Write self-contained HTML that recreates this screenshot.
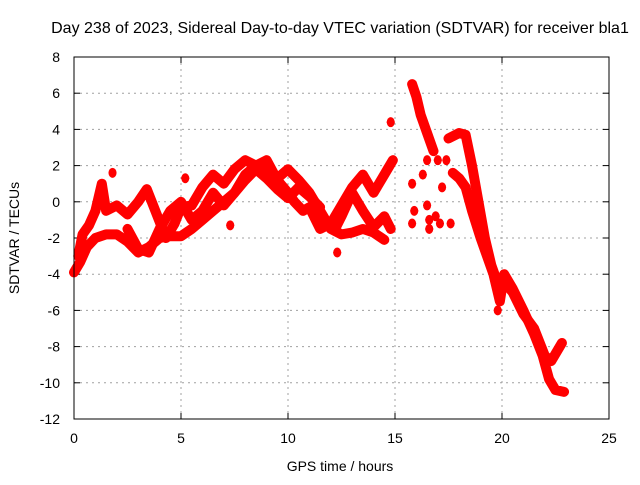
<!DOCTYPE html>
<html><head><meta charset="utf-8"><style>
body{margin:0;background:#fff}
svg text{font-family:"Liberation Sans",sans-serif;font-size:14px;fill:#000}
</style></head><body>
<svg id="chart" width="640" height="480" viewBox="0 0 640 480" xmlns="http://www.w3.org/2000/svg">
<text x="340" y="33" text-anchor="middle" style="font-size:16px">Day 238 of 2023, Sidereal Day-to-day VTEC variation (SDTVAR) for receiver bla1</text>
<g id="grid"></g>
<g id="ticks"></g>
<g id="marks"></g>
<rect x="74" y="57" width="535" height="362" fill="none" stroke="#000" stroke-width="1"/>
<text x="340" y="471" text-anchor="middle">GPS time / hours</text>
<text transform="translate(19,238) rotate(-90)" text-anchor="middle">SDTVAR / TECUs</text>
</svg>
<script>
const xTicks=[0,5,10,15,20,25];
const yTicks=[-12,-10,-8,-6,-4,-2,0,2,4,6,8];
const trackA_t=[0,0.3,0.6,1.0,1.5,2,2.5,3,3.5,4,4.5,5,5.5,6,6.5,7,7.5,8,8.5,9,9.5,10,10.5,11,11.5,12,12.5,13,13.5,14,14.5];
const trackA_v=[-3.9,-3.3,-2.5,-2.0,-1.8,-1.8,-2.2,-2.8,-2.5,-2.0,-1.9,-1.9,-1.5,-1.0,-0.5,0,0.5,1.5,2.0,1.6,1.3,1.8,1.2,0.5,-0.5,-1.5,-1.8,-1.7,-1.5,-1.7,-2.1];
const trackB_t=[0.2,0.4,0.7,1.0,1.3,1.5,2,2.5,3,3.4,3.8,4.3,4.7,5,5.5,6,6.5,7,7.5,8,8.5,9,9.5,10,10.3,10.7,11,11.5,12,12.5,13,13.5,14,14.5,14.9];
const trackB_v=[-3.0,-1.8,-1.3,-0.5,1.0,-0.5,-0.2,-0.7,0.0,0.7,-0.5,-2.0,-1.2,-0.3,-0.2,0.8,1.5,1.0,1.8,2.3,2.0,2.3,1.2,0.5,0,-0.5,-0.3,-1.5,-1.2,-0.2,0.8,1.5,0.5,1.5,2.3];
const trackC_t=[2.5,3,3.5,4,4.5,5,5.5,6,6.5,7,7.5,8,8.5,9,9.5,10,10.5,11,11.5];
const trackC_v=[-1.5,-2.6,-2.8,-1.5,-0.5,0,-1.0,-0.5,0.5,-0.2,0.5,1.2,1.8,1.3,0.7,0.2,0.8,0.3,-0.3];
const trackD_t=[12.2,12.5,13,13.5,14,14.5,14.8];
const trackD_v=[-1.5,-0.8,0.5,-0.5,-1.4,-0.8,-1.5];
const trackE_t=[15.8,16,16.2,16.5,16.8];
const trackE_v=[6.5,5.8,4.8,3.8,2.8];
const trackF_t=[17.5,18,18.3,18.6,18.9,19.2,19.5,19.8,20,20.5,21,21.5,22,22.3,22.8];
const trackF_v=[3.5,3.8,3.7,2.0,0,-2,-3.5,-4.5,-4.3,-5.0,-6.2,-7.0,-8.5,-8.8,-7.8];
const trackG_t=[17.7,18.0,18.3,18.6,19,19.3,19.6,19.9,20.1,20.5,21,21.5,21.9,22.2,22.5,22.9];
const trackG_v=[1.6,1.3,0.8,-0.5,-2,-3,-4,-5.5,-4.0,-4.8,-6.0,-7.3,-8.5,-9.8,-10.4,-10.5];
const blobs_t=[15.8,15.9,15.8,16.3,16.5,16.6,16.6,16.9,17.1,16.5,17.0,17.2,17.4,17.6,14.8,1.8,5.2,7.3,12.3,19.8];
const blobs_v=[1.0,-0.5,-1.2,1.5,-0.2,-1.0,-1.5,-0.8,-1.2,2.3,2.3,0.8,2.3,-1.2,4.4,1.6,1.3,-1.3,-2.8,-6.0];
const tracks=[[trackA_t,trackA_v],[trackB_t,trackB_v],[trackC_t,trackC_v],[trackD_t,trackD_v],[trackE_t,trackE_v],[trackF_t,trackF_v],[trackG_t,trackG_v]];
const X0=74,X1=609,Y0=419,Y1=57;
const xs=t=>X0+(t-0)/(25-0)*(X1-X0);
const ys=v=>Y0-(v+12)/(20)*(Y0-Y1);
const NS='http://www.w3.org/2000/svg';
const grid=document.getElementById('grid'),ticks=document.getElementById('ticks'),marks=document.getElementById('marks');
function mk(tag,attrs,parent){const e=document.createElementNS(NS,tag);for(const k in attrs)e.setAttribute(k,attrs[k]);parent.appendChild(e);return e;}
xTicks.forEach(t=>{const x=xs(t);
 if(t>0&&t<25){const g=mk('line',{x1:x,x2:x,y1:Y1,y2:Y0,stroke:'#a0a0a0','stroke-dasharray':'2,4'},grid);
 
 }
 mk('line',{x1:x,x2:x,y1:Y0,y2:Y0-6,stroke:'#000'},ticks);mk('line',{x1:x,x2:x,y1:Y1,y2:Y1+6,stroke:'#000'},ticks);
 const l=mk('text',{x:x,y:443,'text-anchor':'middle'},ticks);l.textContent=t;
 
 });
yTicks.forEach(v=>{const y=ys(v);
 if(v>-12&&v<8){const g=mk('line',{x1:X0,x2:X1,y1:y,y2:y,stroke:'#a0a0a0','stroke-dasharray':'2,4'},grid);
 
 }
 mk('line',{x1:X0,x2:X0+6,y1:y,y2:y,stroke:'#000'},ticks);mk('line',{x1:X1,x2:X1-6,y1:y,y2:y,stroke:'#000'},ticks);
 const l=mk('text',{x:60,y:y+5,'text-anchor':'end'},ticks);l.textContent=v;
 
 });
function plus(t,v){const x=xs(t),y=ys(v);
 const p=mk('path',{d:`M${x-4},${y}h8M${x},${y-4}v8`,stroke:'#f00','stroke-width':1.5},marks);
 
 }
tracks.forEach(([T,V])=>{
 const pl=mk('polyline',{points:T.map((t,i)=>xs(t)+','+ys(V[i])).join(' '),fill:'none',stroke:'#f00','stroke-width':10,'stroke-linejoin':'round','stroke-linecap':'round'},marks);
 
 
 T.forEach((t,i)=>plus(t,V[i]));});
blobs_t.forEach((t,i)=>{const c=mk('ellipse',{cx:xs(t),cy:ys(blobs_v[i]),rx:4,ry:5,fill:'#f00'},marks);
 
 
 plus(t,blobs_v[i]);});
</script>
</body></html>
